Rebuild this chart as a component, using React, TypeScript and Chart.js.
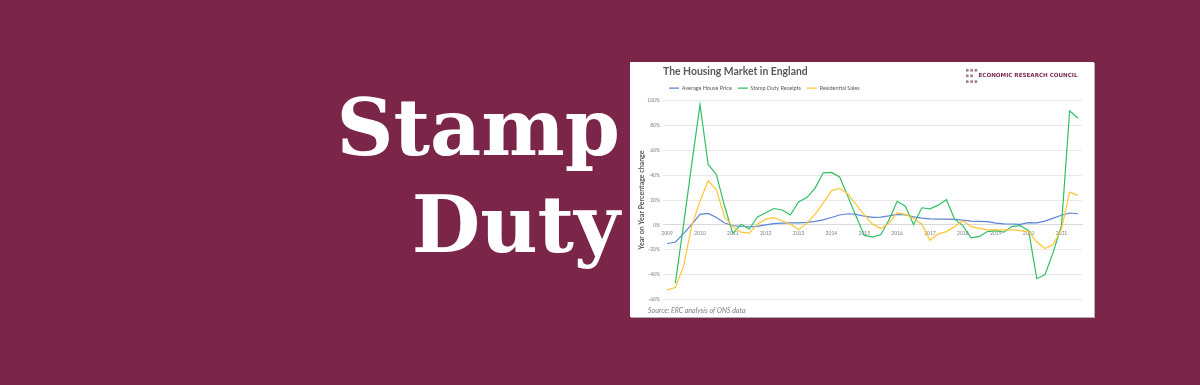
import React, { useEffect, useRef } from "react";
import { Chart, registerables } from "chart.js";

Chart.register(...registerables);

const quarterLabels = [
  "2009 Q1", "2009 Q2", "2009 Q3", "2009 Q4",
  "2010 Q1", "2010 Q2", "2010 Q3", "2010 Q4",
  "2011 Q1", "2011 Q2", "2011 Q3", "2011 Q4",
  "2012 Q1", "2012 Q2", "2012 Q3", "2012 Q4",
  "2013 Q1", "2013 Q2", "2013 Q3", "2013 Q4",
  "2014 Q1", "2014 Q2", "2014 Q3", "2014 Q4",
  "2015 Q1", "2015 Q2", "2015 Q3", "2015 Q4",
  "2016 Q1", "2016 Q2", "2016 Q3", "2016 Q4",
  "2017 Q1", "2017 Q2", "2017 Q3", "2017 Q4",
  "2018 Q1", "2018 Q2", "2018 Q3", "2018 Q4",
  "2019 Q1", "2019 Q2", "2019 Q3", "2019 Q4",
  "2020 Q1", "2020 Q2", "2020 Q3", "2020 Q4",
  "2021 Q1", "2021 Q2", "2021 Q3",
];

const averageHousePrice = [
  -15, -14, -7, 0.5, 8.5, 9.3, 6, 1.5,
  -0.5, -1.3, -1.5, -1.2, 0, 1, 1.5, 1.6,
  1.6, 2, 2.8, 4, 6, 8, 9, 8.5,
  7, 6, 6.2, 7.2, 8.5, 8, 6.5, 5.5,
  4.8, 4.6, 4.6, 4.4, 3.8, 3, 2.8, 2.6,
  1.4, 0.9, 0.7, 0.4, 1.8, 1.6, 3, 5.5,
  7.8, 9.6, 9,
];

const stampDutyReceipts = [
  null, -47, 0, 49, 97, 48.7, 40.5, 15,
  -7, 0.6, -3.3, 6.4, 9.8, 13.2, 12, 8,
  18.5, 22, 29.5, 42, 42.3, 38.7, 23, 7,
  -8.5, -9.8, -8, 4, 19, 15, 0.2, 13.8,
  13, 15.9, 20.3, 4.6, -0.6, -10.4, -9.3, -5.4,
  -4.6, -5.9, -1.2, -0.6, -4.6, -43.4, -40, -22,
  -0.6, 92, 86,
];

const residentialSales = [
  -52.4, -50.5, -33.5, -0.6, 19, 35.6, 28.2, 6.4,
  -1.4, -5.9, -6.7, 0.6, 4.6, 5.9, 3.3, 0.6,
  -3.8, 1.2, 8.5, 17.7, 27.5, 29.5, 25, 16.4,
  8, 0.6, -3, 1.2, 9.8, 8.5, 5.4, 0.6,
  -12.4, -7.2, -5.4, -1.4, 3.3, -1.4, -2.8, -4,
  -4, -4, -4, -4.6, -5.4, -13.8, -19, -15.9,
  -3.3, 26.4, 23.8,
];

const seriesNames = ["Average House Price", "Stamp Duty Receipts", "Residential Sales"];
const seriesColors = ["#5b84d6", "#2fbf62", "#ffc533"];

const chartTitle = "The Housing Market in England";
const yAxisTitle = "Year on Year Percentage change";
const sourceText = "Source: ERC analysis of ONS data";
const logoText = "ECONOMIC RESEARCH COUNCIL";
const headlineWords = ["Stamp", "Duty"];

const FONT = "Lato, 'Noto Sans', sans-serif";

const decorPlugin = {
  id: "decor",
  afterDraw(chart: any) {
    const ctx = chart.ctx as CanvasRenderingContext2D;
    ctx.save();
    // logo squares
    ctx.fillStyle = "#a47a92";
    const sx = 336;
    const rows = [7, 12.5, 18.3];
    const pitch = 4.3;
    rows.forEach((ry, r) => {
      const count = r === 1 ? 2 : 3;
      for (let c = 0; c < count; c++) {
        ctx.fillRect(sx + c * pitch, ry, 2.6, 2.6);
      }
    });
    ctx.fillStyle = "#7d2c52";
    ctx.font = "bold 5.6px 'DejaVu Sans', sans-serif";
    ctx.textBaseline = "middle";
    ctx.textAlign = "left";
    ctx.fillText(logoText, 348.5, 13.9);
    // source
    ctx.fillStyle = "#7f7f7f";
    ctx.font = "italic 7px " + FONT;
    ctx.fillText(sourceText, 18, 249);
    ctx.restore();
  },
};

function HousingChart() {
  const canvasRef = useRef<HTMLCanvasElement | null>(null);

  useEffect(() => {
    if (!canvasRef.current) return;
    const values = [averageHousePrice, stampDutyReceipts, residentialSales];
    const orders = [3, 2, 1];
    const chart = new Chart(canvasRef.current, {
      type: "line",
      data: {
        labels: quarterLabels,
        datasets: values.map((v, i) => ({
          label: seriesNames[i],
          data: v,
          borderColor: seriesColors[i],
          backgroundColor: seriesColors[i],
          borderWidth: 1.2,
          pointRadius: 0,
          tension: 0,
          spanGaps: false,
          order: orders[i],
        })),
      },
      options: {
        responsive: false,
        animation: false,
        devicePixelRatio: 1,
        layout: { padding: { left: 0, right: 12, top: 0, bottom: 17.7 } },
        plugins: {
          title: {
            display: true,
            text: chartTitle,
            align: "start",
            fullSize: false,
            color: "#595959",
            font: { family: FONT, size: 10.4, weight: "bold" },
            padding: { top: 3, bottom: 1.9 },
          },
          legend: {
            display: true,
            position: "top",
            align: "start",
            fullSize: false,
            labels: {
              usePointStyle: true,
              pointStyle: "line",
              pointStyleWidth: 10,
              color: "#595959",
              font: { family: FONT, size: 5.5 },
              padding: 6,
              sort: (a: any, b: any) => a.datasetIndex - b.datasetIndex,
            },
          },
          tooltip: { enabled: false },
        },
        scales: {
          x: {
            type: "category",
            offset: true,
            position: { y: 0 } as any,
            grid: { display: false, drawTicks: false },
            border: { display: true, color: "#d9d9d9", width: 1 },
            ticks: {
              autoSkip: false,
              maxRotation: 0,
              minRotation: 0,
              padding: 5,
              color: "#7f7f7f",
              font: { family: FONT, size: 5 },
              callback: function (this: any, _v: any, idx: number) {
                const lab = quarterLabels[idx];
                return lab.endsWith("Q1") ? lab.slice(0, 4) : "";
              },
            },
          },
          y: {
            min: -60,
            max: 100,
            afterFit: (scale: any) => {
              scale.width = 33;
            },
            grid: { color: "#e8e8e8", drawTicks: false, lineWidth: 1 },
            border: { display: false },
            ticks: {
              stepSize: 20,
              padding: 3,
              color: "#7f7f7f",
              font: { family: FONT, size: 5 },
              callback: (v: any) => v + "%",
            },
            title: {
              display: true,
              text: yAxisTitle,
              color: "#595959",
              font: { family: FONT, size: 7, weight: "bold" },
              padding: { top: 8, bottom: 0 },
            },
          },
        },
      },
      plugins: [decorPlugin],
    } as any);
    return () => chart.destroy();
  }, []);

  return (
    <canvas
      ref={canvasRef}
      width={464}
      height={255}
      style={{ display: "block", width: 464, height: 255 }}
    />
  );
}

export default function App() {
  useEffect(() => {
    document.body.style.margin = "0";
  }, []);
  const wordStyle: React.CSSProperties = {
    position: "absolute",
    right: 580,
    fontFamily: "'DejaVu Serif', 'Liberation Serif', serif",
    fontWeight: "bold",
    fontSize: 79,
    lineHeight: "79px",
    color: "#ffffff",
    whiteSpace: "nowrap",
    textAlign: "right",
  };
  return (
    <div
      style={{
        position: "relative",
        width: 1200,
        height: 385,
        background: "#7b2649",
        overflow: "hidden",
      }}
    >
      <div style={{ ...wordStyle, top: 88 }}>{headlineWords[0]}</div>
      <div style={{ ...wordStyle, top: 185 }}>{headlineWords[1]}</div>
      <div
        style={{
          position: "absolute",
          left: 630,
          top: 62,
          width: 464,
          height: 255,
          background: "#ffffff",
          boxShadow: "1px 1px 0 #b9aab2",
        }}
      >
        <HousingChart />
      </div>
    </div>
  );
}
